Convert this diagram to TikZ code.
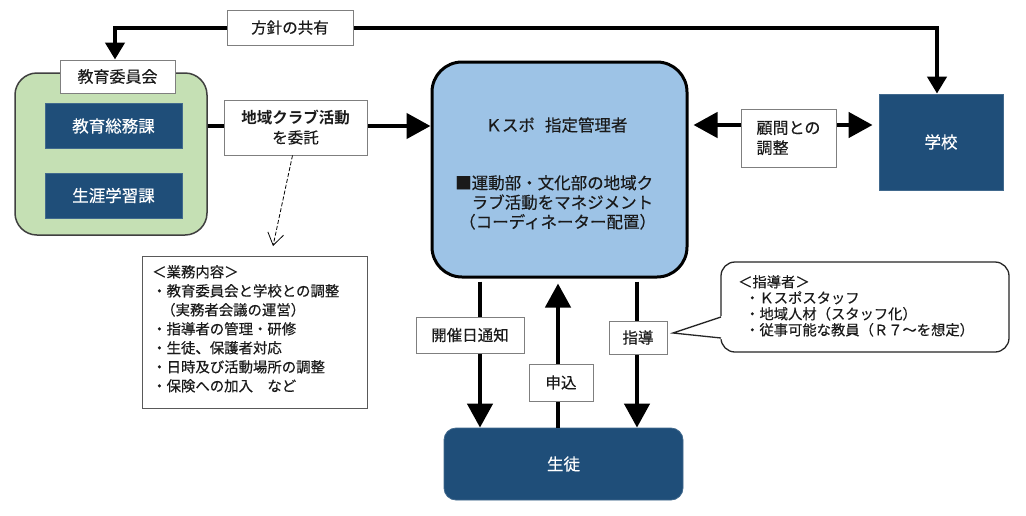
\documentclass[tikz,border=0pt]{standalone}
\usepackage{fontspec}
\setmainfont{Noto Sans CJK JP}[FakeBold=0.35]
\newfontfamily\boldcjk{Noto Sans CJK JP Bold}
\usetikzlibrary{arrows.meta}
\definecolor{dblue}{HTML}{1F4E79}
\definecolor{lblue}{HTML}{9DC3E6}
\definecolor{lgreen}{HTML}{C5E0B4}
\definecolor{bgray}{HTML}{7F7F7F}
\definecolor{txt}{HTML}{1A1A1A}
\begin{document}
\begin{tikzpicture}[x=1pt,y=-1pt,
  font=\fontsize{15.5}{19.5}\selectfont, text=txt,
  lbl/.style={draw=bgray, line width=0.9pt, fill=white, inner sep=0pt},
  dbox/.style={fill=dblue, draw=dblue!85!white, line width=0.8pt, text=white, inner sep=0pt, font=\fontsize{16.5}{19}\selectfont},
  bigtip/.tip={Triangle[width=25pt,length=24pt]},
  smalltip/.tip={Triangle[width=19pt,length=17pt]},
  big/.style={line width=4.5pt, -bigtip},
  listtext/.style={anchor=north west, inner sep=0pt, align=left},
]
\path[use as bounding box, fill=white] (0,0) rectangle (1026,515);

% main blocks
\node[fill=lgreen, draw=black!75, line width=1.5pt, rounded corners=22pt,
      minimum width=192pt, minimum height=162pt] (edu) at (111,154) {};
\node[dbox, minimum width=137pt, minimum height=45pt] (soumu) at (113.5,126) {教育総務課};
\node[dbox, minimum width=137pt, minimum height=45pt] (shogai) at (113.5,195.5) {生涯学習課};
\node[lbl, minimum width=115pt, minimum height=33pt, font=\fontsize{16}{19}\selectfont] (iinkai) at (117.5,76.5) {教育委員会};

\node[fill=lblue, draw=black, line width=3pt, rounded corners=30pt,
      minimum width=255pt, minimum height=215pt] (kspo) at (559.5,169.5) {};
\node[inner sep=0pt, font=\fontsize{16.5}{19.5}\selectfont] (kspoA) at (556.5,125) {Ｋスポ\hspace{10pt}指定管理者};
\node[listtext, font=\fontsize{16.5}{19.5}\selectfont] (kspoB) at (455,175) {■運動部・文化部の地域ク\\　ラブ活動をマネジメント\\\hspace{4pt}（コーディネーター配置）};

\node[dbox, minimum width=124pt, minimum height=96pt] (school) at (941,142) {学校};
\node[dbox, rounded corners=12pt, minimum width=239pt, minimum height=72pt] (seito) at (563.5,464) {生徒};

% connectors
\coordinate (tl) at (115,28);
\coordinate (tr) at (937,28);
\draw[line width=4.5pt, line join=miter, smalltip-smalltip] ([xshift=-2.5pt]iinkai.north) -- (tl) -- (tr) -- ([xshift=-4pt]school.north);

\draw[big] (soumu.east -| edu.east) -- (soumu.east -| kspo.west);

\coordinate (kr) at ([yshift=44.5pt]kspo.east);
\draw[line width=4.5pt, bigtip-bigtip, shorten <=5pt, shorten >=6pt] (kr) -- (kr -| school.west);

\coordinate (b1) at ([xshift=-79.5pt]kspo.south);
\coordinate (b2) at ([xshift=-1.5pt]kspo.south);
\coordinate (b3) at ([xshift=77.5pt]kspo.south);
\draw[big, shorten <=3pt] (b1) -- (b1 |- seito.north);
\draw[big, shorten >=5pt] (b2 |- seito.north) -- (b2);
\draw[big, shorten <=3pt] (b3) -- (b3 |- seito.north);

% labels on connectors
\node[lbl, minimum width=126pt, minimum height=35pt] (hoshin) at (290,27.5) {方針の共有};
\node[lbl, minimum width=143pt, minimum height=55pt, align=center] (itaku) at (295.5,127.5) {{\boldcjk 地域クラブ活動}\\を委託};
\node[lbl, minimum width=95pt, minimum height=58pt, align=left, font=\fontsize{16}{20}\selectfont] (komon) at (788.5,138) {顧問との\\調整};
\node[lbl, minimum width=108pt, minimum height=36pt] (kaisai) at (470,335) {開催日通知};
\node[lbl, minimum width=64pt, minimum height=37pt] (moushi) at (561,382.5) {申込};
\node[lbl, minimum width=58pt, minimum height=33pt] (shidou) at (638,337.5) {指導};

% dashed arrow to task list
\coordinate (dend) at (273,246);
\draw[line width=0.8pt, dash pattern=on 4pt off 2pt, -{Straight Barb[length=12pt,width=16pt]}] ([xshift=-3pt]itaku.south) -- (dend);

% task list box
\node[draw=black!65, line width=1pt, fill=white, minimum width=225pt, minimum height=152pt] (gyomu) at (254.5,332) {};
\node[listtext, font=\fontsize{14.4}{19}\selectfont] (gyomut) at (152,265) {＜業務内容＞\\・教育委員会と学校との調整\\\hspace{9pt}（実務者会議の運営）\\・指導者の管理・研修\\・生徒、保護者対応\\・日時及び活動場所の調整\\・保険への加入　など};

% callout
\node[draw=black!85, line width=1.3pt, fill=white, rounded corners=14pt, minimum width=288pt, minimum height=90pt] (callout) at (865,307) {};
\coordinate (p1) at (721,317);
\coordinate (tip) at (673,333);
\coordinate (p2) at (721,338);
\fill[white] (723.5,315.5) -- (tip) -- (723.5,339.5) -- cycle;
\draw[draw=black!85, line width=1.3pt, line join=miter] (p1) -- (tip) -- (p2);
\node[listtext, font=\fontsize{14.3}{16}\selectfont] (calltxt) at (738,275) {＜指導者＞\\\hspace{7pt}・Ｋスポスタッフ\\\hspace{7pt}・地域人材（スタッフ化）\\\hspace{7pt}・従事可能な教員（Ｒ７～を想定）};
\end{tikzpicture}
\end{document}
